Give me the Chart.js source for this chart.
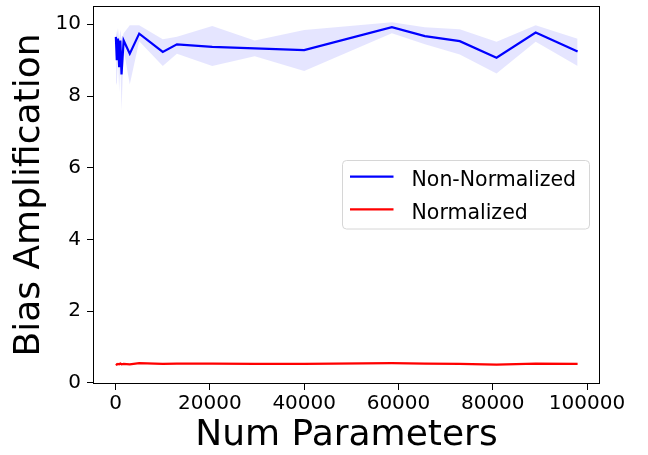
<!DOCTYPE html>
<html>
<head>
<meta charset="utf-8">
<script src="https://cdn.jsdelivr.net/npm/chart.js@4/dist/chart.umd.min.js"></script>
<style>
html,body{margin:0;padding:0;background:#fff;}
canvas{display:block;}
</style>
</head>
<body>
<canvas id="c" width="648" height="455"></canvas>
<script>
const numParams = [50, 250, 500, 750, 1000, 1250, 1700, 3000, 5000, 10000, 13000, 20500, 29500, 40000, 58600, 65600, 73000, 80800, 89100, 98000];
const nonNormMean = [9.65, 9.0, 9.6, 8.8, 9.55, 8.6, 9.55, 9.18, 9.74, 9.23, 9.44, 9.37, 9.33, 9.28, 9.92, 9.67, 9.53, 9.07, 9.77, 9.24];
const nonNormUpper = [9.85, 9.7, 9.9, 9.6, 9.85, 9.6, 9.75, 9.97, 9.97, 9.58, 9.65, 9.95, 9.55, 9.84, 10.06, 9.92, 9.86, 9.51, 9.97, 9.6];
const nonNormLower = [8.4, 8.3, 9.1, 8.1, 9.0, 7.58, 9.3, 8.32, 9.53, 8.84, 9.18, 8.84, 9.11, 8.70, 9.75, 9.44, 9.16, 8.63, 9.51, 8.84];
const normMean = [0.53, 0.51, 0.53, 0.52, 0.54, 0.52, 0.53, 0.52, 0.55, 0.53, 0.54, 0.54, 0.53, 0.53, 0.55, 0.54, 0.53, 0.51, 0.54, 0.53];
const normUpper = [0.55, 0.54, 0.55, 0.54, 0.56, 0.55, 0.55, 0.54, 0.57, 0.55, 0.56, 0.56, 0.55, 0.55, 0.57, 0.56, 0.55, 0.53, 0.56, 0.55];
const normLower = [0.51, 0.48, 0.51, 0.50, 0.52, 0.49, 0.51, 0.50, 0.53, 0.51, 0.52, 0.52, 0.51, 0.51, 0.53, 0.52, 0.51, 0.49, 0.52, 0.51];
const xTicks = [0, 20000, 40000, 60000, 80000, 100000];
const yTicks = [0, 2, 4, 6, 8, 10];
const seriesLabels = ['Non-Normalized', 'Normalized'];
const xTitle = 'Num Parameters';
const yTitle = 'Bias Amplification';

const pts = arr => arr.map((v, i) => ({x: numParams[i], y: v}));
const FONT = 'DejaVu Sans';

const framePlugin = {
  id: 'frame',
  afterDraw(chart) {
    const {ctx, chartArea: a} = chart;
    ctx.save();
    ctx.strokeStyle = '#000';
    ctx.lineWidth = 1;
    const l = Math.round(a.left) + 0.5, t = Math.round(a.top) + 0.5;
    const r = Math.round(a.right) - 0.5, b = Math.round(a.bottom) - 0.5;
    ctx.strokeRect(l, t, r - l, b - t);
    // legend
    const bx = 342.5, by = 160.5, bw = 247, bh = 68.5, rad = 4;
    ctx.beginPath();
    ctx.moveTo(bx + rad, by);
    ctx.arcTo(bx + bw, by, bx + bw, by + bh, rad);
    ctx.arcTo(bx + bw, by + bh, bx, by + bh, rad);
    ctx.arcTo(bx, by + bh, bx, by, rad);
    ctx.arcTo(bx, by, bx + bw, by, rad);
    ctx.closePath();
    ctx.fillStyle = 'rgba(255,255,255,0.8)';
    ctx.fill();
    ctx.strokeStyle = '#d6d6d6';
    ctx.stroke();
    const rows = [
      {label: seriesLabels[0], color: '#0000ff', y: 176.7, base: 186},
      {label: seriesLabels[1], color: '#ff0000', y: 209.3, base: 218.5}
    ];
    ctx.font = '20.5px "' + FONT + '"';
    ctx.textBaseline = 'alphabetic';
    ctx.textAlign = 'left';
    rows.forEach(r0 => {
      ctx.beginPath();
      ctx.strokeStyle = r0.color;
      ctx.lineWidth = 2.2;
      ctx.moveTo(350, r0.y);
      ctx.lineTo(393.5, r0.y);
      ctx.stroke();
      ctx.fillStyle = '#000';
      ctx.fillText(r0.label, 411.5, r0.base);
    });
    ctx.restore();
  }
};

new Chart(document.getElementById('c'), {
  type: 'line',
  data: {
    datasets: [
      {label: 'nn-upper', data: pts(nonNormUpper), borderWidth: 0, pointRadius: 0, fill: false, order: 2, tension: 0},
      {label: 'nn-lower', data: pts(nonNormLower), borderWidth: 0, pointRadius: 0, fill: '-1', backgroundColor: 'rgba(0,0,255,0.1)', order: 2, tension: 0},
      {label: 'n-upper', data: pts(normUpper), borderWidth: 0, pointRadius: 0, fill: false, order: 2, tension: 0},
      {label: 'n-lower', data: pts(normLower), borderWidth: 0, pointRadius: 0, fill: '-1', backgroundColor: 'rgba(255,0,0,0.1)', order: 2, tension: 0},
      {label: seriesLabels[0], data: pts(nonNormMean), borderColor: '#0000ff', borderWidth: 2.2, pointRadius: 0, fill: false, order: 0, tension: 0},
      {label: seriesLabels[1], data: pts(normMean), borderColor: '#ff0000', borderWidth: 2.2, pointRadius: 0, fill: false, order: 0, tension: 0}
    ]
  },
  options: {
    responsive: false,
    animation: false,
    devicePixelRatio: 1,
    layout: {padding: {left: 0, top: 6, right: 48, bottom: 0}},
    plugins: {legend: {display: false}, tooltip: {enabled: false}},
    scales: {
      x: {
        type: 'linear',
        min: -4800,
        max: 102750,
        afterBuildTicks: s => { s.ticks = xTicks.map(v => ({value: v})); },
        afterFit: s => { s.height = 71; s.paddingLeft = 0; s.paddingRight = 0; },
        ticks: {
          color: '#000',
          font: {family: FONT, size: 20},
          padding: 2,
          maxRotation: 0,
          autoSkip: false,
          callback: v => String(v)
        },
        grid: {drawOnChartArea: false, drawTicks: true, tickLength: 6, tickColor: '#000', tickWidth: 1},
        border: {display: false},
        title: {display: true, text: xTitle, color: '#000', font: {family: FONT, size: 36, lineHeight: 1}, padding: {top: 0, bottom: 1.2}}
      },
      y: {
        type: 'linear',
        min: -0.03,
        max: 10.51,
        afterBuildTicks: s => { s.ticks = yTicks.map(v => ({value: v})); },
        afterFit: s => { s.width = 93; s.paddingTop = 0; s.paddingBottom = 0; },
        ticks: {
          color: '#000',
          font: {family: FONT, size: 20},
          padding: 6,
          autoSkip: false,
          callback: v => String(v)
        },
        grid: {drawOnChartArea: false, drawTicks: true, tickLength: 6, tickColor: '#000', tickWidth: 1},
        border: {display: false},
        title: {display: true, text: yTitle, color: '#000', font: {family: FONT, size: 36, lineHeight: 1}, padding: {top: 11.2, bottom: 0}}
      }
    }
  },
  plugins: [framePlugin]
});
</script>
</body>
</html>
